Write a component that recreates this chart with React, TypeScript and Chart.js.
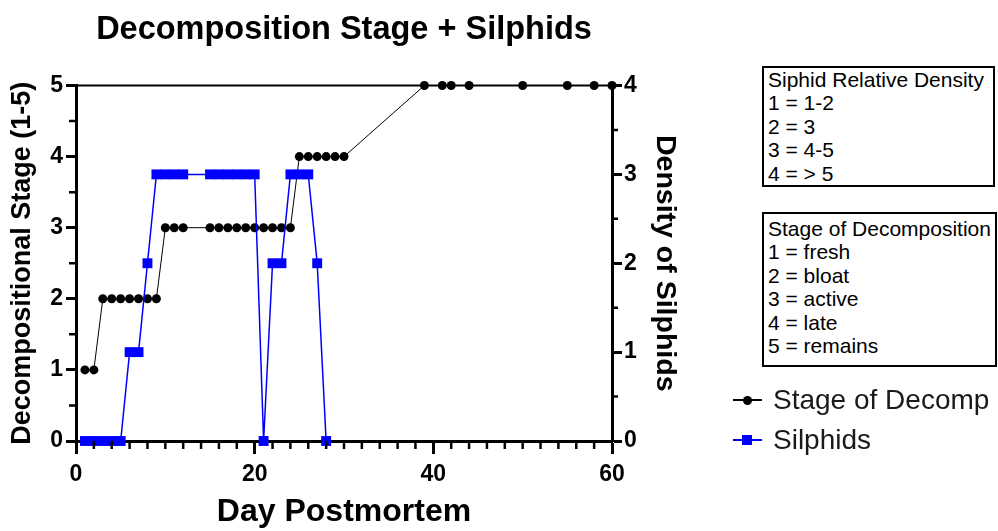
import React, { useEffect, useRef } from 'react';
import { Chart, registerables } from 'chart.js';

Chart.register(...registerables);

// ---- data ----
const stageDays = [1, 2, 3, 4, 5, 6, 7, 8, 9, 10, 11, 12, 15, 16, 17, 18, 19, 20, 21, 22, 23, 24, 25, 26, 27, 28, 29, 30, 39, 41, 42, 44, 50, 55, 58, 60];
const stageValues = [1, 1, 2, 2, 2, 2, 2, 2, 2, 3, 3, 3, 3, 3, 3, 3, 3, 3, 3, 3, 3, 3, 4, 4, 4, 4, 4, 4, 5, 5, 5, 5, 5, 5, 5, 5];
const silphidDays = [1, 2, 3, 4, 5, 6, 7, 8, 9, 10, 11, 12, 15, 16, 17, 18, 19, 20, 21, 22, 23, 24, 25, 26, 27, 28];
const silphidValues = [0, 0, 0, 0, 0, 1, 1, 2, 3, 3, 3, 3, 3, 3, 3, 3, 3, 3, 0, 2, 2, 3, 3, 3, 2, 0];

const xTickValues = [0, 20, 40, 60];
const leftTickValues = [0, 1, 2, 3, 4, 5];
const rightTickValues = [0, 1, 2, 3, 4];

const densityKey = ['Siphid Relative Density', '1 = 1-2', '2 = 3', '3 = 4-5', '4 = > 5'];
const stageKey = ['Stage of Decomposition', '1 = fresh', '2 = bloat', '3 = active', '4 = late', '5 = remains'];
const seriesNames = ['Stage of Decomp', 'Silphids'];

const FONT = '"Liberation Sans", Arial, Helvetica, sans-serif';
const BLUE = '#0000ff';

const framePlugin = {
  id: 'frameAndMinorTicks',
  beforeDatasetsDraw(chart: any) {
    const { ctx, chartArea } = chart;
    ctx.save();
    ctx.strokeStyle = '#000';
    ctx.lineWidth = 2;
    ctx.beginPath();
    ctx.moveTo(chartArea.left, chartArea.top);
    ctx.lineTo(chartArea.right, chartArea.top);
    ctx.stroke();
    ctx.restore();
  },
  afterDraw(chart: any) {
    const { ctx, chartArea, scales } = chart;
    ctx.save();
    ctx.strokeStyle = '#000';
    ctx.lineWidth = 2.5;
    ctx.beginPath();
    const x = scales.x;
    for (let v = x.min + 2; v < x.max; v += 2) {
      if (v % 20 === 0) continue;
      const px = x.getPixelForValue(v);
      ctx.moveTo(px, chartArea.bottom);
      ctx.lineTo(px, chartArea.bottom + 8);
    }
    const yl = scales.y;
    for (let v = 0.5; v < yl.max; v += 1) {
      const py = yl.getPixelForValue(v);
      ctx.moveTo(chartArea.left - 7, py);
      ctx.lineTo(chartArea.left, py);
    }
    const yr = scales.y1;
    for (let v = 0.5; v < yr.max; v += 1) {
      const py = yr.getPixelForValue(v);
      ctx.moveTo(chartArea.right, py);
      ctx.lineTo(chartArea.right + 6, py);
    }
    ctx.stroke();
    ctx.restore();
  },
};

export default function App() {
  const ref = useRef<HTMLCanvasElement | null>(null);

  useEffect(() => {
    if (!ref.current) return;
    const tickFont = { family: FONT, size: 23, weight: 'bold' as const };
    const chart = new Chart(ref.current, {
      type: 'line',
      data: {
        datasets: [
          {
            label: seriesNames[0],
            data: stageDays.map((d, i) => ({ x: d, y: stageValues[i] })),
            yAxisID: 'y',
            borderColor: '#000',
            backgroundColor: '#000',
            borderWidth: 1,
            pointStyle: 'circle',
            pointRadius: 4.5,
            pointBorderWidth: 0,
            pointBackgroundColor: '#000',
            clip: false as any,
            order: 2,
          },
          {
            label: seriesNames[1],
            data: silphidDays.map((d, i) => ({ x: d, y: silphidValues[i] })),
            yAxisID: 'y1',
            borderColor: BLUE,
            backgroundColor: BLUE,
            borderWidth: 1.5,
            pointStyle: 'rect',
            pointRadius: 7,
            pointBorderWidth: 0,
            pointBackgroundColor: BLUE,
            clip: false as any,
            order: 1,
          },
        ],
      },
      options: {
        animation: false,
        responsive: true,
        maintainAspectRatio: false,
        layout: { padding: { left: 6, right: 316, top: 0, bottom: 0 } },
        plugins: {
          legend: { display: false },
          tooltip: { enabled: false },
          title: {
            display: true,
            text: 'Decomposition Stage + Silphids',
            color: '#000',
            font: { family: FONT, size: 32.5, weight: 'bold' },
            padding: { top: 11, bottom: 35.5 },
          },
        },
        scales: {
          x: {
            type: 'linear',
            min: 0,
            max: 60,
            afterBuildTicks: (s: any) => { s.ticks = xTickValues.map((v) => ({ value: v })); },
            afterFit: (s: any) => { s.height = 90; },
            ticks: { color: '#000', font: tickFont, padding: 7, maxRotation: 0 },
            grid: { drawOnChartArea: false, drawTicks: true, tickLength: 13, tickWidth: 3, tickColor: '#000' },
            border: { color: '#000', width: 3 },
            title: {
              display: true,
              text: 'Day Postmortem',
              color: '#000',
              font: { family: FONT, size: 32, weight: 'bold' },
              padding: 0,
            },
          },
          y: {
            type: 'linear',
            position: 'left',
            min: 0,
            max: 5,
            afterBuildTicks: (s: any) => { s.ticks = leftTickValues.map((v) => ({ value: v })); },
            afterFit: (s: any) => { s.width = 70; },
            ticks: { color: '#000', font: tickFont, padding: 3 },
            grid: { drawOnChartArea: false, drawTicks: true, tickLength: 10, tickWidth: 3, tickColor: '#000' },
            border: { color: '#000', width: 3 },
            title: {
              display: true,
              text: 'Decompositional Stage (1-5)',
              color: '#000',
              font: { family: FONT, size: 27, weight: 'bold' },
              padding: 0,
            },
          },
          y1: {
            type: 'linear',
            position: 'right',
            min: 0,
            max: 4,
            afterBuildTicks: (s: any) => { s.ticks = rightTickValues.map((v) => ({ value: v })); },
            afterFit: (s: any) => { s.width = 70; },
            ticks: { color: '#000', font: tickFont, padding: 2 },
            grid: { drawOnChartArea: false, drawTicks: true, tickLength: 10, tickWidth: 3, tickColor: '#000' },
            border: { color: '#000', width: 3 },
            title: {
              display: true,
              text: 'Density of Silphids',
              color: '#000',
              font: { family: FONT, size: 28.5, weight: 'bold' },
              padding: 0,
            },
          },
        },
      },
      plugins: [framePlugin],
    });
    return () => chart.destroy();
  }, []);

  const boxStyle: React.CSSProperties = {
    position: 'absolute',
    left: 762,
    border: '2px solid #000',
    boxSizing: 'border-box',
    padding: '0 0 0 4px',
    fontFamily: FONT,
    fontSize: 21,
    lineHeight: '23.4px',
    color: '#000',
    background: '#fff',
    whiteSpace: 'nowrap',
  };

  const legendText: React.CSSProperties = {
    position: 'absolute',
    left: 773,
    fontFamily: FONT,
    fontSize: 28,
    lineHeight: '32px',
    color: '#1a1a1a',
    whiteSpace: 'nowrap',
  };

  return (
    <div style={{ position: 'absolute', left: 0, top: 0, width: 998, height: 531, background: '#fff', overflow: 'hidden' }}>
      <canvas ref={ref} />
      <div style={{ ...boxStyle, top: 66, width: 233, height: 121 }}>
        {densityKey.map((t) => (<div key={t}>{t}</div>))}
      </div>
      <div style={{ ...boxStyle, top: 212, width: 235, height: 155, paddingTop: 3 }}>
        {stageKey.map((t) => (<div key={t}>{t}</div>))}
      </div>
      {/* series legend */}
      <div style={{ position: 'absolute', left: 733, top: 399, width: 29, height: 1.5, background: '#000' }} />
      <div style={{ position: 'absolute', left: 743, top: 395.5, width: 9, height: 9, borderRadius: '50%', background: '#000' }} />
      <div style={{ ...legendText, top: 384 }}>{seriesNames[0]}</div>
      <div style={{ position: 'absolute', left: 733, top: 439, width: 29, height: 2, background: BLUE }} />
      <div style={{ position: 'absolute', left: 742, top: 435, width: 10, height: 10, background: BLUE }} />
      <div style={{ ...legendText, top: 424 }}>{seriesNames[1]}</div>
    </div>
  );
}
